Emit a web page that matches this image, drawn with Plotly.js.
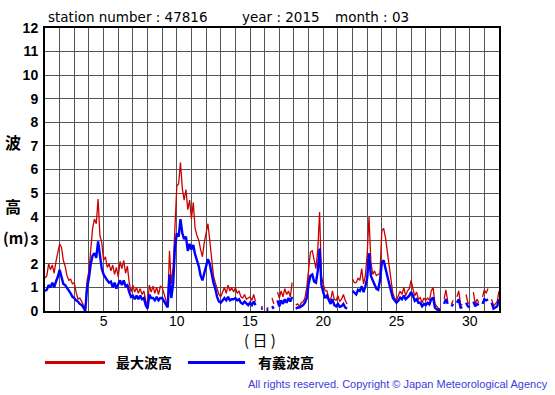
<!DOCTYPE html>
<html><head><meta charset="utf-8">
<script src="https://cdn.plot.ly/plotly-3.0.1.min.js"></script>
<style>html,body{margin:0;padding:0;background:#fff;} #chart{width:555px;height:395px;}</style>
</head><body><div id="chart"></div>
<script>
const stationLabel = "station number : 47816";
const yearLabel = "year : 2015";
const monthLabel = "month : 03";
const seriesNames = ["最大波高", "有義波高"];
const samplesPerDay = 8; // 3-hourly readings, first at day 1 00h
const xTickVals = [5, 10, 15, 20, 25, 30];
const yTickVals = [0, 1, 2, 3, 4, 5, 6, 7, 8, 9, 10, 11, 12];

// 最大波高 (m), 3-hourly, days 1..31 + end of month
const maxWaveHeight = [
  1.4, 1.5, 2.0, 1.75, 1.95, 1.6, 2.1, 2.5,
  2.85, 2.7, 2.15, 1.9, 1.5, 1.3, 1.35, 1.15,
  1.2, 0.8, 0.5, 0.55, 0.4, 0.3, 0.1, 1.3,
  1.7, 2.6, 3.5, 3.9, 3.7, 4.75, 3.2, 2.9,
  2.15, 2.3, 1.85, 2.0, 1.7, 1.95, 1.55, 1.85,
  1.45, 2.1, 1.8, 2.15, 1.6, 1.9, 1.2, 0.8,
  1.1, 0.8, 1.0, 0.75, 0.95, 0.7, 0.85, 0.45,
  0.25, 1.1, 0.8, 1.05, 0.75, 1.0, 0.7, 1.05,
  1.0, 0.75, 0.5, 0.2, 2.55, 1.15, 1.85, 3.7,
  5.3, 5.4, 6.3, 5.2, 4.7, 5.15, 4.3, 4.7,
  3.9, 4.6, 3.5, 3.2, 3.0, 2.6, 2.3, 2.9,
  3.3, 3.7, 3.0, 2.1, 1.5, 1.2, 0.9, 0.7,
  0.6, 0.8, 1.0, 0.75, 1.1, 0.85, 1.0, 0.8,
  1.0, 0.75, 0.85, 0.6, 0.55, 0.7, 0.5, 0.55,
  0.6, 0.45, 0.7, 0.4, null, null, 0.15, 0.2,
  null, 0.1, 0.15, null, 0.55, 0.3, null, 0.8,
  0.55, 0.85, 0.6, 0.95, 0.7, 0.85, 0.6, 1.2,
  null, 0.25, 0.3, 0.2, 0.35, 0.4, 0.55, 1.0,
  1.7, 2.5, 2.55, 2.1, 1.8, 2.6, 4.2, 1.45,
  1.1, 0.85, 0.85, 0.55, 0.45, 0.85, 0.5, 0.45,
  0.65, 0.4, 0.5, 0.7, 0.45, 0.3, null, null,
  1.35, 1.2, 1.2, 1.4, 1.3, 1.8, 1.15, 1.5,
  2.4, 4.0, 2.1, 1.55, 1.7, 1.5, 1.55, 1.6,
  3.4, 3.5, 3.1, 2.5, 1.9, 1.2, 0.75, 0.55,
  0.45, 0.65, 0.85, 0.7, 1.0, 0.65, 0.85, 0.95,
  1.3, 0.93, 0.65, 0.8, 0.5, 0.57, 0.35, 0.55,
  0.45, 0.55, 0.45, 0.85, 1.0, 0.3, 0.2, 0.1,
  0.1, null, 0.5, 0.9, 0.4, null, 0.3, 0.45,
  null, 0.6, 0.85, 0.3, 0.25, null, 0.7, 0.35,
  0.3, null, 0.8, 0.3, 0.5, 0.35, null, 0.6,
  0.9, 0.75, 0.95, null, 0.5, 0.2, 0.3, 0.4,
  0.85
];

// 有義波高 (m), 3-hourly
const sigWaveHeight = [
  0.85, 0.9, 1.1, 1.0, 1.2, 1.0, 1.25, 1.45,
  1.75, 1.5, 1.15, 1.1, 1.0, 0.9, 0.75, 0.6,
  0.55, 0.45, 0.4, 0.3, 0.25, 0.15, 0.0, 1.0,
  1.4, 2.0, 2.35, 2.45, 2.25, 2.95, 2.3, 1.8,
  1.55, 1.4, 1.3, 1.2, 1.25, 1.0, 1.2, 0.95,
  1.15, 1.3, 1.1, 1.3, 1.05, 1.1, 0.8, 0.6,
  0.65, 0.5, 0.65, 0.5, 0.65, 0.5, 0.55, 0.25,
  0.1, 0.7, 0.55, 0.55, 0.45, 0.6, 0.45, 0.55,
  0.55, 0.4, 0.25, 0.15, 1.55, 0.55, 1.15, 2.7,
  3.3, 3.15, 3.9, 3.3, 3.05, 3.15, 2.55, 2.85,
  2.6, 2.8, 2.4, 2.15, 1.9, 1.5, 1.3, 1.6,
  1.85, 2.2, 2.0, 1.5, 1.2, 0.95, 0.6, 0.4,
  0.35, 0.45, 0.55, 0.45, 0.6, 0.45, 0.5, 0.5,
  0.55, 0.45, 0.5, 0.35, 0.3, 0.4, 0.3, 0.25,
  0.35, 0.25, 0.4, 0.25, null, null, 0.1, 0.1,
  null, 0.05, 0.05, null, 0.2, 0.1, null, 0.45,
  0.2, 0.45, 0.3, 0.5, 0.35, 0.55, 0.4, 0.6,
  null, 0.1, 0.15, 0.15, 0.2, 0.25, 0.35, 0.55,
  1.15, 1.5, 1.55, 1.25, 1.2, 1.7, 2.65, 1.1,
  0.8, 0.55, 0.65, 0.45, 0.3, 0.5, 0.25, 0.2,
  0.3, 0.18, 0.2, 0.3, 0.15, 0.1, null, null,
  0.85, 0.75, 0.7, 0.9, 0.85, 1.05, 0.8, 1.05,
  1.4, 2.45, 1.5, 1.3, 1.1, 0.95, 0.9, 1.3,
  2.05, 2.15, 1.8, 1.45, 1.2, 0.85, 0.55, 0.45,
  0.35, 0.43, 0.57, 0.5, 0.65, 0.5, 0.57, 0.65,
  0.8, 0.65, 0.43, 0.5, 0.35, 0.35, 0.2, 0.3,
  0.25, 0.35, 0.28, 0.5, 0.57, 0.14, 0.07, 0.03,
  0.05, null, 0.3, 0.5, 0.3, null, 0.2, 0.3,
  null, 0.35, 0.5, 0.15, 0.15, null, 0.35, 0.2,
  0.15, null, 0.4, 0.2, 0.3, 0.25, null, 0.3,
  0.5, 0.45, 0.5, null, 0.35, 0.1, 0.15, 0.2,
  0.5
];

const timeDays = maxWaveHeight.map((_, i) => 1 + i / samplesPerDay);

const W = 555, H = 395, L = 45, R = 56, T = 28, B = 84;
const pw = W - L - R, ph = H - T - B;
const px = x => (x - L) / pw;
const py = y => (H - B - y) / ph;

const RED = '#cc0000', BLUE = '#0000ff';
const sans = 'Liberation Sans, Arial, sans-serif';
const cjk = 'Noto Sans CJK JP, sans-serif';

const traces = [
  {x: timeDays, y: maxWaveHeight, name: seriesNames[0], type: 'scatter', mode: 'lines',
   line: {color: RED, width: 1.3}, connectgaps: false},
  {x: timeDays, y: sigWaveHeight, name: seriesNames[1], type: 'scatter', mode: 'lines',
   line: {color: BLUE, width: 2.4}, connectgaps: false}
];

function ann(text, x, y, xanchor, font) {
  return {text, x: px(x), y: py(y), xref: 'paper', yref: 'paper', xanchor, yanchor: 'middle',
          showarrow: false, font};
}
const titleFont = {family: 'DejaVu Sans, sans-serif', size: 13.5, color: '#000'};

const layout = {
  width: W, height: H,
  margin: {l: L, r: R, t: T, b: B, pad: 0},
  paper_bgcolor: '#fff', plot_bgcolor: '#fff',
  showlegend: false,
  hovermode: false,
  xaxis: {
    range: [1, 32], tickmode: 'array', tickvals: xTickVals, ticks: '',
    ticklabelstandoff: -4,
    showgrid: true, gridcolor: '#555', gridwidth: 1,
    minor: {tickmode: 'linear', tick0: 0, dtick: 1, showgrid: true, gridcolor: '#555', gridwidth: 1, ticks: ''},
    showline: true, mirror: true, linecolor: '#000', linewidth: 2, zeroline: false,
    tickfont: {family: sans, size: 14, color: '#000'}
  },
  yaxis: {
    range: [0, 12], tickmode: 'array', tickvals: yTickVals, ticks: '',
    ticklabelstandoff: 2,
    showgrid: true, gridcolor: '#555', gridwidth: 1,
    showline: true, mirror: true, linecolor: '#000', linewidth: 2, zeroline: false,
    tickfont: {family: sans, size: 14, color: '#000', weight: 'bold'}
  },
  shapes: [
    {type: 'line', xref: 'paper', yref: 'paper', x0: px(45), x1: px(105), y0: py(362.5), y1: py(362.5),
     line: {color: RED, width: 3}},
    {type: 'line', xref: 'paper', yref: 'paper', x0: px(188), x1: px(245), y0: py(362.5), y1: py(362.5),
     line: {color: BLUE, width: 3}}
  ],
  annotations: [
    ann(stationLabel, 46, 17, 'left', titleFont),
    ann(yearLabel, 240, 17, 'left', titleFont),
    ann(monthLabel, 333, 17, 'left', titleFont),
    ann('波', 13, 142, 'center', {family: cjk, size: 16, color: '#000', weight: 'bold'}),
    ann('高', 13, 206, 'center', {family: cjk, size: 16, color: '#000', weight: 'bold'}),
    ann('(m)', 1, 238, 'left', {family: cjk, size: 15, color: '#000', weight: 'bold'}),
    ann('( 日 )', 260, 339, 'center', {family: cjk, size: 15, color: '#000'}),
    ann(seriesNames[0], 114, 362, 'left', {family: cjk, size: 14, color: '#000', weight: 'bold'}),
    ann(seriesNames[1], 256, 362, 'left', {family: cjk, size: 14, color: '#000', weight: 'bold'}),
    ann('All rights reserved. Copyright © Japan Meteorological Agency', 550, 384, 'right',
        {family: sans, size: 11, color: '#3b3bdd'})
  ]
};

Plotly.newPlot('chart', traces, layout, {staticPlot: true, displayModeBar: false});
</script>
</body></html>
